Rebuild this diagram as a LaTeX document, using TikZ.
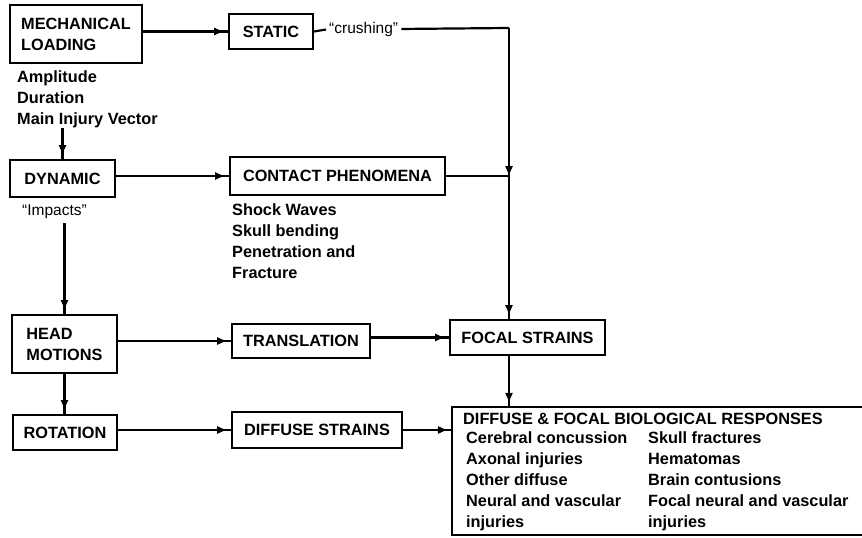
\documentclass[tikz,border=0pt]{standalone}
\usepackage{fontspec}
\setmainfont{Liberation Sans}
\usetikzlibrary{arrows.meta,decorations.markings}
\begin{document}
\begin{tikzpicture}[x=1pt,y=-1pt,
  font=\bfseries\fontsize{16.3}{21}\selectfont,
  box/.style={draw,line width=2pt,inner sep=0pt,align=left},
  lbl/.style={inner sep=0pt,anchor=west,align=left},
  quotetxt/.style={font=\fontsize{15.5}{21}\selectfont},
  conn/.style={draw,line width=2.2pt},
  arrconn/.style={conn,postaction={decorate},decoration={markings,mark=at position -4pt with {\arrow[line width=1pt]{Latex[length=10pt,width=8pt]}}}},
]
\useasboundingbox (0,0) rectangle (862,538);

\node[box,minimum width=132pt,minimum height=58pt] (mech) at (76,34) {MECHANICAL\\LOADING};
\node[box,minimum width=84pt,minimum height=35pt] (static) at (271,31.5) {STATIC};
\node[lbl,quotetxt] (crush) at (329,29) {“crushing”};
\node[lbl] (params) at (17,99) {Amplitude\\Duration\\Main Injury Vector};
\node[box,minimum width=105pt,minimum height=37pt] (dyn) at (62.5,178.5) {DYNAMIC};
\node[lbl,quotetxt] (imp) at (22,212) {“Impacts”};
\node[box,minimum width=215pt,minimum height=38pt] (contact) at (337.5,176) {CONTACT PHENOMENA};
\node[lbl] (cp) at (232,241) {Shock Waves\\Skull bending\\Penetration and\\Fracture};
\node[box,minimum width=105pt,minimum height=58pt] (head) at (64.5,344) {HEAD\\MOTIONS};
\node[box,minimum width=138pt,minimum height=34pt] (trans) at (301,341) {TRANSLATION};
\node[box,minimum width=155pt,minimum height=35pt] (focal) at (527.5,337.5) {FOCAL STRAINS};
\node[box,minimum width=104pt,minimum height=35pt] (rot) at (65,432.5) {ROTATION};
\node[box,minimum width=170pt,minimum height=36pt] (diff) at (317,430) {DIFFUSE STRAINS};

\node[inner sep=0pt,minimum width=410pt,minimum height=128pt] (big) at (657,471) {};
\draw[line width=2pt] (big.north east) -- (big.north west) -- (big.south west) -- (big.south east);
\node[lbl] (title) at (463,419) {DIFFUSE \& FOCAL BIOLOGICAL RESPONSES};
\node[lbl] (col1) at (466,481) {Cerebral concussion\\Axonal injuries\\Other diffuse\\Neural and vascular\\injuries};
\node[lbl] (col2) at (648,481) {Skull fractures\\Hematomas\\Brain contusions\\Focal neural and vascular\\injuries};

\coordinate (corner) at (509,28);
\coordinate (jn) at (contact.east -| corner);

\path[arrconn] (static.west -| mech.east) -- (static.west);
\path[conn,shorten >=3pt] (static.east) -- (crush.west);
\path[conn,shorten <=3pt] (crush.east) -- (corner);
\path[arrconn] (corner) -- ([yshift=-4pt]jn);
\path[conn] ([yshift=-4pt]jn) -- (jn);
\path[conn] (contact.east) -- (jn);
\path[arrconn] (jn) -- (jn |- focal.north);
\path[arrconn] (dyn.north |- params.south) -- (dyn.north);
\path[arrconn] (contact.west -| dyn.east) -- (contact.west);
\path[arrconn,shorten <=4pt] (imp.south -| head.north) -- (head.north);
\path[arrconn] (trans.west -| head.east) -- (trans.west);
\path[arrconn] (focal.west -| trans.east) -- (focal.west);
\path[arrconn] (focal.south -| jn) -- (big.north -| jn);
\path[arrconn] (head.south) -- (head.south |- rot.north);
\path[arrconn] (diff.west -| rot.east) -- (diff.west);
\path[arrconn] (diff.east) -- (diff.east -| big.west);
\end{tikzpicture}
\end{document}
